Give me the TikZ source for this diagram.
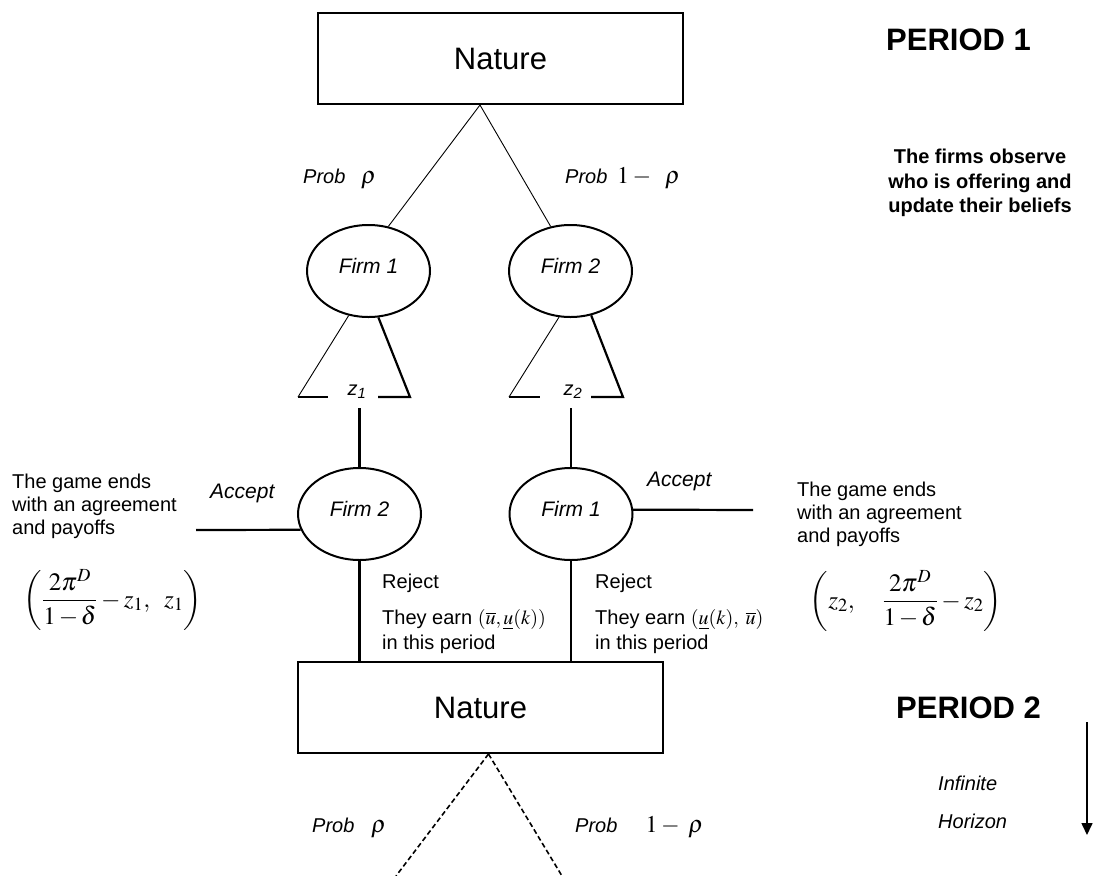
\documentclass[tikz,border=0pt]{standalone}
\usepackage{mathptmx}
\usepackage[no-math]{fontspec}
\setmainfont{Liberation Sans}
\usetikzlibrary{shapes.geometric,arrows.meta,calc}
\tikzset{
  box/.style={draw, line width=2pt, minimum width=365pt, minimum height=91pt, inner sep=0pt, font=\fontsize{31}{36}\selectfont},
  firm/.style={draw, ellipse, line width=2pt, minimum width=123pt, minimum height=92pt, inner sep=0pt, text height=6pt, text depth=1.5pt, font=\fontsize{21}{24}\selectfont\itshape},
  thinline/.style={line width=0.9pt},
  thickline/.style={line width=2.2pt},
  dashedline/.style={line width=1.6pt, dash pattern=on 5pt off 3pt},
  txt/.style={inner sep=0pt, font=\fontsize{20}{23}\selectfont},
  itxt/.style={inner sep=0pt, font=\fontsize{20}{23}\selectfont\itshape},
  acc/.style={inner sep=0pt, font=\fontsize{21}{24}\selectfont\itshape},
  big/.style={inner sep=0pt, font=\fontsize{31}{36}\selectfont\bfseries},
  mth/.style={inner sep=0pt, font=\fontsize{24}{28}\selectfont},
  pay/.style={inner sep=0pt, font=\fontsize{25}{30}\selectfont},
}
\begin{document}
\begin{tikzpicture}[x=1pt,y=-1pt]
\useasboundingbox (0,0) rectangle (1096,876);
% main nodes
\node[box] (n1) at (500.5,58.5) {Nature};
\node[firm] (f1a) at (368.5,271) {Firm 1};
\node[firm] (f2a) at (570.5,271) {Firm 2};
\node[firm] (f2b) at (359.5,514) {Firm 2};
\node[firm] (f1b) at (571,514) {Firm 1};
\node[box] (n2) at (480.5,707.5) {Nature};
% nature -> firms
\coordinate (top1) at ($(n1.south)+(-20.5,0)$);
\draw[thinline] (top1) -- (f1a.66);
\draw[thinline] (top1) -- (f2a.114);
% wedge firm 1
\coordinate (w1a) at (298,397);
\coordinate (w1b) at (328,397);
\coordinate (w1c) at (378,397);
\coordinate (w1d) at (410,397);
\draw[thinline] (f1a.246) -- (w1a);
\draw[thickline] (w1a) -- (w1b);
\draw[thickline] (f1a.282) -- (w1d) -- (w1c);
\node[itxt, anchor=base] (z1) at (357,395) {z\textsubscript{1}};
% wedge firm 2
\coordinate (w2a) at (509,397);
\coordinate (w2b) at (540,397);
\coordinate (w2c) at (591,397);
\coordinate (w2d) at (623,397);
\draw[thinline] (f2a.256) -- (w2a);
\draw[thickline] (w2a) -- (w2b);
\draw[thickline] (f2a.295) -- (w2d) -- (w2c);
\node[itxt, anchor=base] (z2) at (573,395) {z\textsubscript{2}};
% verticals
\coordinate (v1) at (359.5,408);
\coordinate (v2) at (571,408);
\draw[thickline] (v1) -- (f2b.north);
\draw[thickline] (v2) -- (f1b.north);
\draw[thickline] (f2b.south) -- (f2b.south |- n2.north);
\draw[thickline] (f1b.south) -- (f1b.south |- n2.north);
% accept lines
\coordinate (accL) at (196,530);
\coordinate (accR) at (753,510);
\draw[thickline] (accL) -- (f2b.195);
\draw[thickline] (f1b.4) -- (accR);
% dashed lines
\coordinate (apex) at ($(n2.south)+(8,0)$);
\coordinate (d1) at (396,876);
\coordinate (d2) at (562,876);
\draw[dashedline] (apex) -- (d1);
\draw[dashedline] (apex) -- (d2);
% probabilities
\node[itxt, anchor=base west] (p1) at (303,183) {Prob};
\node[mth, anchor=base west] (r1) at (361,183) {$\rho$};
\node[itxt, anchor=base west] (p2) at (565,183) {Prob};
\node[mth, anchor=base west] (r2) at (617,183) {$1-\;\;\rho$};
\node[itxt, anchor=base west] (p3) at (312,832) {Prob};
\node[mth, anchor=base west] (r3) at (371,832) {$\rho$};
\node[itxt, anchor=base west] (p4) at (575,832) {Prob};
\node[mth, anchor=base west] (r4) at (645.5,832) {$1-\;\rho$};
% accept labels
\node[acc, anchor=base west] (accLt) at (210,498) {Accept};
\node[acc, anchor=base west] (accRt) at (647,486) {Accept};
% game ends blocks
\node[txt, align=left, anchor=west] (endL) at (12,506) {The game ends\\with an agreement\\and payoffs};
\node[txt, align=left, anchor=west] (endR) at (797,514.5) {The game ends\\with an agreement\\and payoffs};
\node[pay] (payL) at (113,600) {$\left(\displaystyle\frac{2\pi^D}{1\mkern2mu{-}\mkern2mu\delta}-z_1,\;\; z_1\right)$};
\node[pay] (payR) at (906,601) {$\left(z_2,\quad\displaystyle\frac{2\pi^D}{1\mkern2mu{-}\mkern2mu\delta}-z_2\right)$};
% reject
\node[txt, anchor=base west] (rej1) at (382,588) {Reject};
\node[txt, align=left, anchor=west, font=\fontsize{20}{25}\selectfont] (earn1) at (382,632) {They earn $(\overline{u},\underline{u}(k))$\\in this period};
\node[txt, anchor=base west] (rej2) at (595,588) {Reject};
\node[txt, align=left, anchor=west, font=\fontsize{20}{25}\selectfont] (earn2) at (595,632) {They earn $(\underline{u}(k),\;\overline{u})$\\in this period};
% right side
\node[big, anchor=base west] (per1) at (886,50) {PERIOD 1};
\node[txt, align=center, font=\fontsize{20}{24.5}\selectfont\bfseries] (obs) at (980,183) {The firms observe\\who is offering and\\update their beliefs};
\node[big, anchor=base west] (per2) at (896,718) {PERIOD 2};
\node[itxt, anchor=base west] (inf) at (938,790) {Infinite};
\node[itxt, anchor=base west] (hor) at (938,828) {Horizon};
\coordinate (ar1) at (1087,722);
\coordinate (ar2) at (1087,835);
\draw[line width=1.6pt, -{Triangle[width=11pt,length=12pt]}] (ar1) -- (ar2);
\end{tikzpicture}
\end{document}
